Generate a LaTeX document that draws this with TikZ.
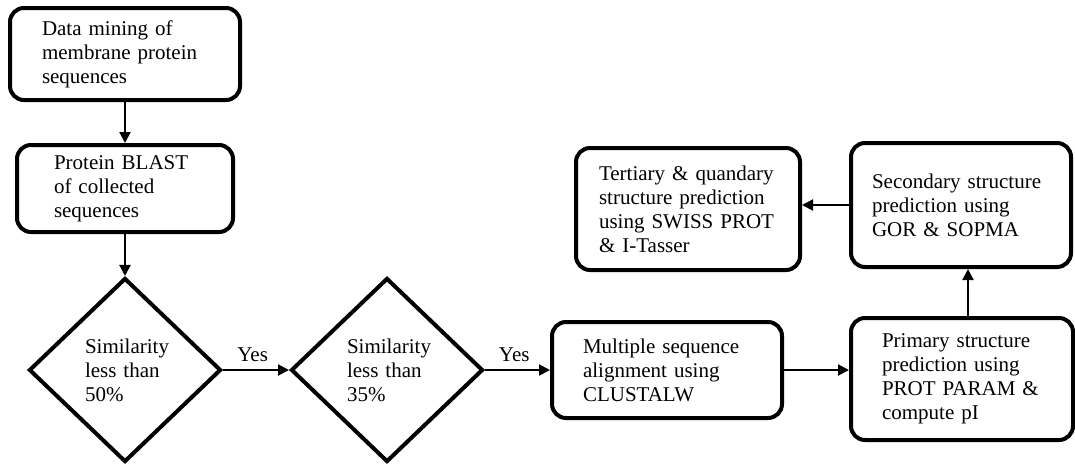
\documentclass[tikz,border=0pt]{standalone}
\usepackage{fontspec}
\setmainfont{Liberation Serif}
\usetikzlibrary{arrows.meta,positioning,shapes.geometric}
\tikzset{stepbox/.style={rectangle, rounded corners=14pt, draw=black, line width=4pt, align=left, font=\fontsize{21}{24}\selectfont},
decision/.style={diamond, draw=black, line width=4pt, align=left, text width=80pt, minimum width=192pt, minimum height=184pt, inner sep=0pt, font=\fontsize{21}{24}\selectfont},
%arrows between the steps
flow/.style={-{Triangle[length=11pt,width=11pt]}, line width=2pt},
yeslabel/.style={font=\fontsize{21}{24}\selectfont}}

\begin{document}
\begin{tikzpicture}[x=1pt, y=-1pt]

\useasboundingbox (0,0) rectangle (1075,463);

\node[stepbox, minimum width=230pt, minimum height=92pt, text width=166pt] (mining) at (125,54) {Data mining of\\membrane protein\\sequences};
\node[stepbox, minimum width=216pt, minimum height=87pt, text width=142pt] (blast) at (125,188.5) {Protein BLAST\\of collected\\sequences};

\node[decision] (sim50) at (125,370) {Similarity\\less than\\50\%};
\node[decision] (sim35) at (387,370) {Similarity\\less than\\35\%};

\node[stepbox, minimum width=230pt, minimum height=96pt, text width=168pt] (align) at (667,370) {Multiple sequence\\alignment using\\CLUSTALW};
\node[stepbox, minimum width=222pt, minimum height=122pt, text width=160pt] (primary) at (962,379) {Primary structure\\prediction using\\PROT PARAM \&\\compute pI};
\node[stepbox, minimum width=220pt, minimum height=124pt, text width=178pt] (secondary) at (961,205) {Secondary structure\\prediction using\\GOR \& SOPMA};
\node[stepbox, minimum width=224pt, minimum height=122pt, text width=178pt] (tertiary) at (688,209) {Tertiary \& quandary\\structure prediction\\using SWISS PROT\\\& I-Tasser};

\draw[flow] (mining) -- (blast);
\draw[flow] (blast) -- (sim50);
\draw[flow] (sim50) -- node[yeslabel, above, yshift=4pt, pos=0.45] (yes1) {Yes} (sim35);
\draw[flow] (sim35) -- node[yeslabel, above, yshift=4pt, pos=0.45] (yes2) {Yes} (align);
\draw[flow] (align.east) -- (align.east -| primary.west);
\draw[flow] ([xshift=6pt]primary.north) -- ([xshift=6pt]primary.north |- secondary.south);
\draw[flow] (secondary.west) -- (secondary.west -| tertiary.east);

\end{tikzpicture}
\end{document}
